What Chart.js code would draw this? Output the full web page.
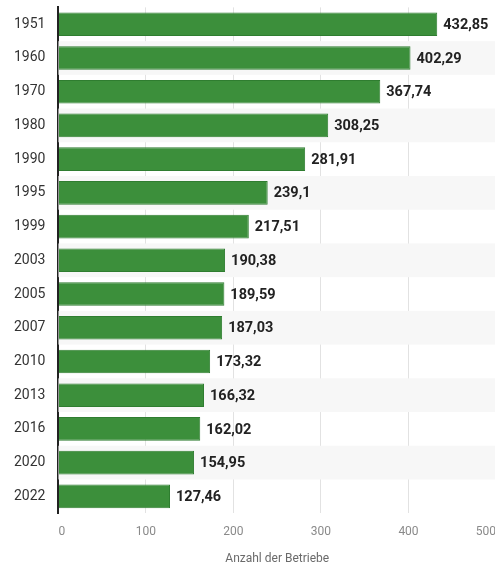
<!DOCTYPE html>
<html lang="de">
  <head>
    <meta charset="UTF-8" />
    <title>Anzahl der Betriebe</title>
    <script src="https://cdn.jsdelivr.net/npm/chart.js@4"></script>
    <style>
      html, body { margin: 0; padding: 0; background: #fff; overflow: hidden; }
      #wrap { width: 508px; height: 580px; position: relative; top: -14px; }
    </style>
  </head>
  <body>
    <div id="wrap"><canvas id="chart"></canvas></div>

    <script>
      const years = ["1951", "1960", "1970", "1980", "1990", "1995", "1999", "2003",
        "2005", "2007", "2010", "2013", "2016", "2020", "2022"];
      const betriebe = [432.85, 402.29, 367.74, 308.25, 281.91, 239.1, 217.51, 190.38,
        189.59, 187.03, 173.32, 166.32, 162.02, 154.95, 127.46];
      const xTicks = [0, 100, 200, 300, 400, 500];

      // grey stripes behind every second row
      const stripes = {
        id: "stripes",
        beforeDatasetsDraw(chart) {
          const { ctx, chartArea, scales } = chart;
          const y = scales.y;
          const half = (y.getPixelForValue(1) - y.getPixelForValue(0)) / 2;
          ctx.save();
          ctx.fillStyle = "#f7f7f7";
          years.forEach((yr, i) => {
            if (i % 2 === 1) {
              const c = y.getPixelForValue(i);
              ctx.fillRect(chartArea.left, c - half, chartArea.right - chartArea.left, half * 2);
            }
          });
          ctx.restore();
        }
      };

      // value next to each bar, german comma
      const valueLabels = {
        id: "valueLabels",
        afterDatasetsDraw(chart) {
          const { ctx } = chart;
          const meta = chart.getDatasetMeta(0);
          ctx.save();
          ctx.font = "bold 14.5px Roboto";
          ctx.fillStyle = "#222";
          ctx.textBaseline = "middle";
          meta.data.forEach((bar, i) => {
            const txt = String(betriebe[i]).replace(".", ",");
            ctx.fillText(txt, bar.x + 6, bar.y + 1);
          });
          ctx.restore();
        }
      };

      const ctx = document.getElementById("chart").getContext("2d");
      new Chart(ctx, {
        type: "bar",
        data: {
          labels: years,
          datasets: [
            {
              data: betriebe,
              backgroundColor: "#3c8f3b",
              borderColor: "#2f7d30",
              borderWidth: 1,
              barPercentage: 0.7,
              categoryPercentage: 1.0
            }
          ]
        },
        options: {
          indexAxis: "y",
          responsive: true,
          maintainAspectRatio: false,
          animation: false,
          layout: { padding: { top: 0, left: 1, right: 0, bottom: 0 } },
          plugins: {
            legend: { display: false },
            tooltip: { enabled: false }
          },
          scales: {
            x: {
              min: 0,
              max: 500,
              afterBuildTicks: (axis) => { axis.ticks = xTicks.map(v => ({ value: v })); },
              grid: { color: "#e2e2e2", drawTicks: false },
              border: { display: false },
              ticks: {
                color: "#8a8a8a",
                font: { family: "Roboto", size: 12 },
                padding: 12,
                align: "inner"
              },
              title: {
                display: true,
                text: "Anzahl der Betriebe",
                color: "#6a6a6a",
                font: { family: "Roboto", size: 12 },
                padding: { top: 0, bottom: 0 }
              }
            },
            y: {
              grid: { display: false, drawTicks: false },
              border: { display: true, color: "#222", width: 2 },
              ticks: {
                color: "#333",
                font: { family: "Roboto", size: 14 },
                padding: 13
              }
            }
          }
        },
        plugins: [stripes, valueLabels]
      });
    </script>
  </body>
</html>
